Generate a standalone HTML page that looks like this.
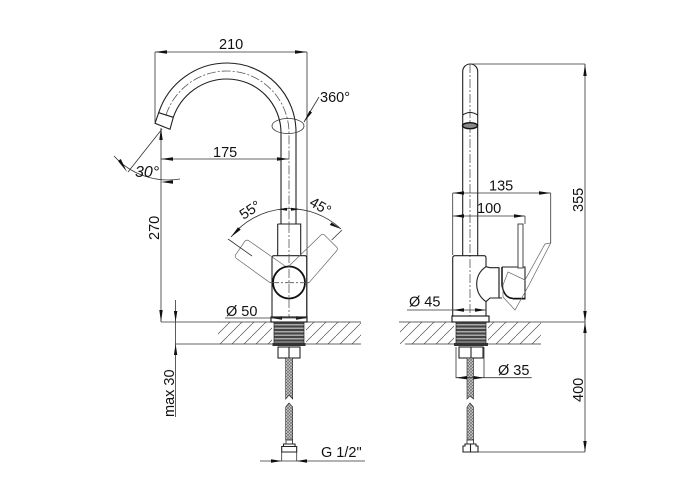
<!DOCTYPE html>
<html><head><meta charset="utf-8">
<style>
html,body{margin:0;padding:0;background:#fff}
svg{display:block}
text{font-family:"Liberation Sans",sans-serif;font-size:14.5px;fill:#111}
.t{stroke:#333;stroke-width:.8;fill:none}
.g{stroke:#666;stroke-width:.7;fill:none}
.m{stroke:#222;stroke-width:1.1;fill:none}
.k{stroke:#111;stroke-width:1.5;fill:none}
.c{stroke:#555;stroke-width:.8;fill:none;stroke-dasharray:9 2 2 2}
.a{fill:#111;stroke:none}
</style></head><body>
<svg width="700" height="500" viewBox="0 0 700 500" xmlns="http://www.w3.org/2000/svg">
<defs>
<pattern id="h" patternUnits="userSpaceOnUse" width="12" height="12"><path d="M-1 13L13 -1" stroke="#555" stroke-width=".7"/></pattern>
<pattern id="b" patternUnits="userSpaceOnUse" width="3" height="3"><rect width="3" height="3" fill="#ccc"/><path d="M0 0L3 3M3 0L0 3" stroke="#666" stroke-width=".6"/></pattern>
<pattern id="th" patternUnits="userSpaceOnUse" width="4" height="3.5"><rect width="4" height="3.5" fill="#aaa"/><rect width="4" height="2" fill="#444"/></pattern>
</defs>

<!-- table hatching -->
<rect x="218" y="322" width="54" height="22" fill="url(#h)"/>
<rect x="306" y="322" width="55" height="22" fill="url(#h)"/>
<rect x="400" y="322" width="54" height="22" fill="url(#h)"/>
<rect x="488" y="322" width="53" height="22" fill="url(#h)"/>
<path class="t" d="M161 322H361M175 344H361M399 322H585M405 344H541"/>

<!-- LEFT: spout -->
<path class="m" d="M158.700 112.700A72 72 0 0 1 227.300 63A69 69 0 0 1 296 132V224"/>
<path class="m" d="M173.300 117.300A56.800 56.800 0 0 1 227 79A54 54 0 0 1 281 133V224"/>
<path class="c" d="M166 115A64 64 0 0 1 227 71A62 62 0 0 1 289 132V224"/>
<path class="m" d="M158.700 112.700L173.300 117.300L170 129.300L155 123.300Z"/>
<ellipse class="t" cx="288" cy="126" rx="16" ry="7.500"/>

<!-- dims top left -->
<path class="t" d="M155 52H307M155 52V122M307 52V317"/>
<path class="a" d="M155 52L167 50.300V53.700ZM307 52L295 50.300V53.700Z"/>
<text x="219" y="49">210</text>
<path class="t" d="M304 122L319 97"/>
<path class="a" d="M304 122L312 112.500L309.500 110.800Z"/>
<text x="320" y="102">360°</text>
<path class="t" d="M161 128V322M161 159H289"/>
<path class="a" d="M161 128L159.300 140H162.700ZM161 322L159.300 310H162.700ZM161 159L173 157.300V160.700ZM289 159L277 157.300V160.700Z"/>
<text x="213" y="157">175</text>
<!-- 30 deg -->
<path class="t" d="M162 129L128 172M114 156A73 73 0 0 0 180 179"/>
<path class="a" d="M127 172L118 161L120.800 159ZM161 182L173 180.300V183.700Z"/>
<text x="135" y="177" font-style="italic" style="font-size:16px">30°</text>

<!-- 270 -->
<text transform="translate(159 240) rotate(-90)">270</text>

<!-- body left -->
<path class="m" d="M277.700 224H300.700V255.700M277.700 224V255.700"/>
<path class="m" d="M272 316.700V258Q272 255.700 274 255.700H305Q306.700 255.700 306.700 258V316.700"/>
<circle cx="289" cy="282.500" r="16" fill="#fff" stroke="#111" stroke-width="1.800"/>
<path class="c" d="M289 224V317M270 282.700H310"/>
<!-- handles -->
<path class="g" d="M285 266L248.500 240.500Q246.500 239.500 245 241L235.500 255Q234.500 257 236.500 258.500L270 282.700"/>
<path class="g" d="M289 266L321 235Q322.700 233.500 324.500 235L337 247.500Q338 249 336.500 251L309 282.700"/>
<path class="t" d="M228 239L252 256M342 230L331.700 240"/>
<!-- arc -->
<path class="t" d="M231 237A75 75 0 0 1 341 229"/>
<path class="a" d="M231 237L238 227.300L240.700 229.600ZM341 229L331.500 222.500L329.800 225ZM278 209.300L287 207.800V210.800ZM300 209.300L291 207.800V210.800Z"/>
<text transform="translate(243.500 220) rotate(-33)">55°</text>
<text transform="translate(308.500 205) rotate(30)">45°</text>

<!-- base left -->
<rect x="271" y="317" width="36" height="5" fill="#fff" stroke="#111" stroke-width="1.100"/>
<path class="a" d="M271 318L282 316.300V319.700ZM307 318L296 316.300V319.700Z"/>
<path class="t" d="M225 318H307"/>
<text x="226" y="316">Ø 50</text>
<rect x="274" y="322" width="30" height="21" fill="url(#th)" stroke="#222" stroke-width=".7"/>
<rect x="272.500" y="343" width="33" height="3" fill="#333"/>
<rect x="278" y="347" width="22" height="11" fill="#fff" stroke="#111" stroke-width="1"/>
<path class="m" d="M289 347V358"/>

<!-- hose left -->
<path d="M285.700 358H292.700V399L289 395L285.700 399Z" fill="url(#b)" stroke="#222" stroke-width=".6"/>
<path d="M285.700 407L289 403L292.700 407V440H285.700Z" fill="url(#b)" stroke="#222" stroke-width=".6"/>
<rect x="286" y="440" width="6.500" height="4" fill="#fff" stroke="#222" stroke-width=".8"/>
<path class="m" d="M283.500 444H295V446.500H296.700V452H281.700V446.500H283.500ZM283.500 446.500H295"/>
<path class="t" d="M281.700 452V461M296.700 452V461M260 461H365"/>
<path class="a" d="M281.700 461L271 459.300V462.700ZM296.700 461L307 459.300V462.700Z"/>
<text x="321" y="457">G 1/2"</text>

<!-- max 30 -->
<path class="t" d="M175.600 300V417"/>
<path class="a" d="M175.600 322L173.900 311H177.300ZM175.600 344L173.900 355H177.300Z"/>
<text transform="translate(174 417) rotate(-90)">max 30</text>

<!-- RIGHT: tube -->
<path class="m" d="M462.700 255.700V71.500A7.500 7.500 0 0 1 477.700 71.500V255.700"/>
<path class="c" d="M470 64V346"/>
<path class="m" d="M462.700 115Q470 110 477.700 115"/>
<ellipse cx="470" cy="125.700" rx="7.500" ry="3" fill="#888" stroke="#111" stroke-width="1.400"/>
<!-- right dims -->
<path class="t" d="M470 64H585M585 64V452M478 452H585"/>
<path class="a" d="M585 64L583.300 76H586.700ZM585 322L583.300 311H586.700ZM585 322L583.300 333H586.700ZM585 452L583.300 441H586.700Z"/>
<text transform="translate(583 212) rotate(-90)">355</text>
<text transform="translate(583 402) rotate(-90)">400</text>

<!-- body right -->
<path class="m" d="M452.700 316V258Q452.700 255.700 455 255.700H484Q486 255.700 486 258V266.700"/>
<path class="m" d="M486 301.700V316"/>
<path class="m" d="M486 266.700Q476.700 273 476.700 284Q476.700 295 486 301.700"/>
<path class="m" d="M486 266.700L490 267.700H499V298H490L486 301.700"/>
<path class="m" d="M499 268V298H502"/>
<path class="m" d="M502 267H525V299H513"/>
<path class="k" d="M502 267V285Q504 298 513 298.500H525"/>
<!-- lever -->
<rect x="518" y="224" width="5" height="44" fill="#fff" stroke="#333" stroke-width=".9"/>
<path class="g" d="M550.700 243L545 244L525 280L508 272L503 285L503 297L515 310L529 285L550.700 243"/>
<!-- dims 135/100 -->
<path class="t" d="M452.700 193H550.700M550.700 193V243M452.700 193V255M452.700 216H525M525 216V224"/>
<path class="a" d="M452.700 193L464 191.300V194.700ZM550.700 193L539 191.300V194.700ZM452.700 216L464 214.300V217.700ZM525 216L514 214.300V217.700Z"/>
<text x="489" y="190.500">135</text>
<text x="477" y="213">100</text>
<!-- Ø45 -->
<path class="t" d="M407 310H486"/>
<path class="a" d="M452.700 310L464 308.300V311.700ZM486 310L475 308.300V311.700Z"/>
<text x="409" y="306.500">Ø 45</text>
<!-- base right -->
<rect x="452" y="316" width="37" height="6" fill="#fff" stroke="#111" stroke-width="1.100"/>
<rect x="456" y="322" width="30" height="21" fill="url(#th)" stroke="#222" stroke-width=".7"/>
<rect x="454" y="343" width="34" height="3" fill="#333"/>
<rect x="459" y="347" width="24" height="11" fill="#fff" stroke="#111" stroke-width="1"/>
<path class="m" d="M471 347V358"/>
<!-- hose right -->
<path d="M467 358H473.500V399L470 396L467 399Z" fill="url(#b)" stroke="#222" stroke-width=".6"/>
<path d="M467 407L470 403L473.500 407V440H467Z" fill="url(#b)" stroke="#222" stroke-width=".6"/>
<rect x="467" y="440" width="6.500" height="4" fill="#fff" stroke="#222" stroke-width=".8"/>
<path class="m" d="M465 444H476V446H478V452H463V446H465ZM470.500 444V452"/>
<!-- Ø35 -->
<path class="t" d="M456 347V378M484 347V378M456 377.700H531.700"/>
<path class="a" d="M456 377.700L467 376V379.400ZM484 377.700L473.500 376V379.400Z"/>
<text x="498" y="375">Ø 35</text>
</svg>
</body></html>
